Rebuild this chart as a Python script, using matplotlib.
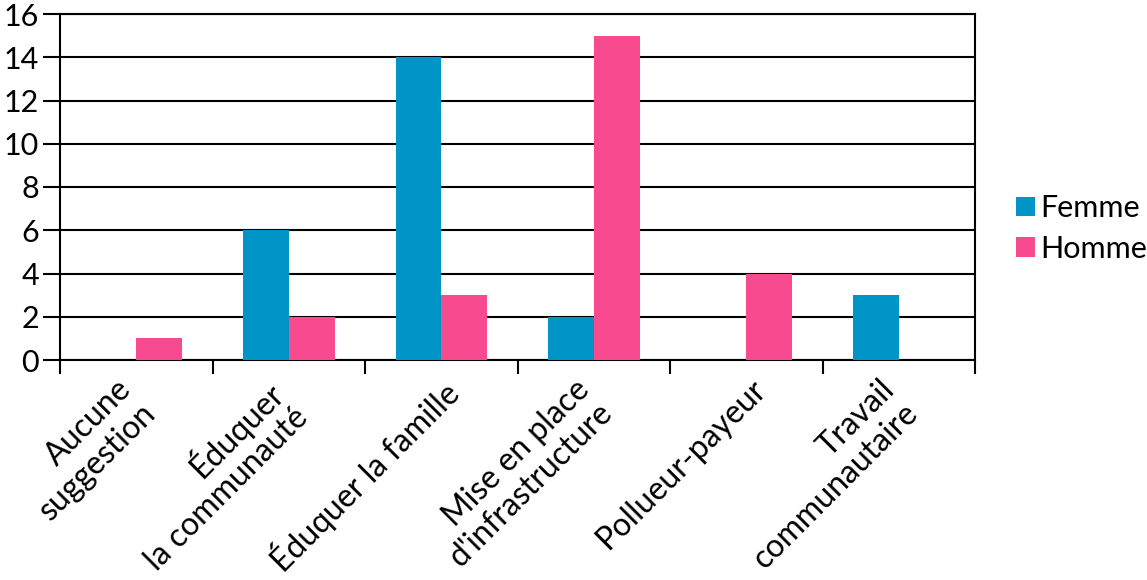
import matplotlib
matplotlib.use("Agg")
import matplotlib.pyplot as plt
import matplotlib.transforms as mtransforms
import numpy as np

categories = ["Aucune\nsuggestion", "Éduquer\nla communauté", "Éduquer la famille",
              "Mise en place\nd'infrastructure", "Pollueur-payeur", "Travail\ncommunautaire"]
femme = [0, 6, 14, 2, 0, 3]
homme = [1, 2, 3, 15, 4, 0]
yticks = [0, 2, 4, 6, 8, 10, 12, 14, 16]

blue = "#0095c6"
pink = "#f84a8f"

plt.rcParams['font.family'] = ['Lato', 'DejaVu Sans']
plt.rcParams['font.size'] = 22

fig = plt.figure(figsize=(11.47, 5.8), dpi=100)
ax = fig.add_axes([60 / 1147, 1 - 360 / 580, (975 - 60) / 1147, (360 - 14) / 580])

x = np.arange(len(categories)) + 0.5
w = 0.3
ax.bar(x - w / 2, femme, w, color=blue, label="Femme", zorder=3)
ax.bar(x + w / 2, homme, w, color=pink, label="Homme", zorder=3)

ax.set_xlim(0, 6)
ax.set_ylim(0, 16)
ax.set_yticks(yticks)
ax.yaxis.grid(True, color="black", linewidth=1.5, zorder=1)
ax.set_axisbelow(True)

# category boundaries get the tick marks, labels sit under each group
ax.set_xticks(range(7))
ax.set_xticklabels([])
ax.tick_params(axis="x", which="major", length=10, width=1.5, direction="out")
ax.tick_params(axis="y", length=12, width=1.5, direction="out", pad=3)

shift = mtransforms.ScaledTranslation(0.25, -0.14, fig.dpi_scale_trans)
for xi, lab in zip(x, categories):
    ax.text(xi, 0, lab, transform=ax.get_xaxis_transform() + shift,
            rotation=45, ha="right", va="top", multialignment="right",
            fontsize=23, linespacing=1.15)

for s in ax.spines.values():
    s.set_linewidth(1.5)

ax.legend(loc="center left", bbox_to_anchor=(1.045, 0.38), frameon=False,
          handlelength=0.6, handleheight=0.6, handletextpad=0.2,
          labelspacing=0.4, borderaxespad=0, borderpad=0)

fig.savefig("out.png", dpi=100)
